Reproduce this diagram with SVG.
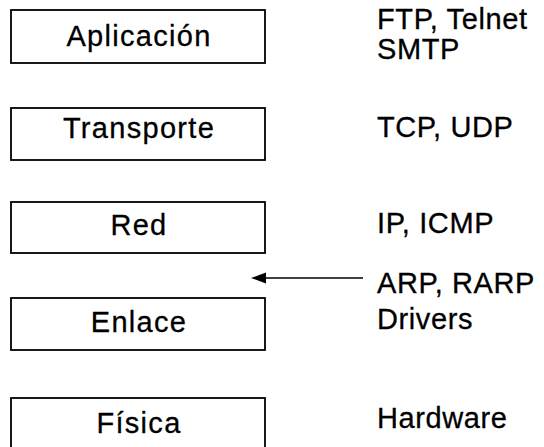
<svg xmlns="http://www.w3.org/2000/svg" width="544" height="447" viewBox="0 0 544 447">
  <style>
    .layer rect { fill: #ffffff; stroke: #000000; stroke-width: 1.8; }
    .layer text { font-family: "Liberation Sans", Arial, Helvetica, sans-serif; font-size: 29px; fill: #000000; stroke: #000000; stroke-width: 0.3; text-anchor: middle; letter-spacing: 1.3px; }
    .proto { font-family: "Liberation Sans", Arial, Helvetica, sans-serif; font-size: 29px; fill: #000000; stroke: #000000; stroke-width: 0.3; letter-spacing: 0.6px; }
    .link { stroke: #000000; stroke-width: 1.6; fill: none; }
    .head { fill: #000000; stroke: none; }
  </style>
  <rect width="544" height="447" fill="#ffffff"/>

  <!-- protocol stack layers -->
  <g id="aplicacion" class="layer">
    <rect x="11" y="10" width="254" height="53"/>
    <text x="139" y="46">Aplicación</text>
  </g>
  <g id="transporte" class="layer">
    <rect x="11" y="108" width="254" height="52"/>
    <text x="139" y="138">Transporte</text>
  </g>
  <g id="red" class="layer">
    <rect x="11" y="202" width="254" height="51"/>
    <text x="139" y="235">Red</text>
  </g>
  <g id="enlace" class="layer">
    <rect x="11" y="298" width="254" height="52"/>
    <text x="139" y="332">Enlace</text>
  </g>
  <g id="fisica" class="layer">
    <rect x="11" y="398" width="254" height="56"/>
    <text x="139" y="433">Física</text>
  </g>

  <!-- protocols per layer -->
  <g id="protocols">
    <text class="proto" x="377" y="29">FTP, Telnet</text>
    <text class="proto" x="377" y="59">SMTP</text>
    <text class="proto" x="377" y="137">TCP, UDP</text>
    <text class="proto" x="377" y="233">IP, ICMP</text>
    <text class="proto" x="377" y="293">ARP, RARP</text>
    <text class="proto" x="377" y="329">Drivers</text>
    <text class="proto" x="377" y="428">Hardware</text>
  </g>

  <!-- ARP/RARP pointer between Red and Enlace -->
  <g id="connectors">
    <line class="link" x1="363" y1="278" x2="264" y2="278"/>
    <polygon class="head" points="251,278 266,272.5 266,283.5"/>
  </g>
</svg>
